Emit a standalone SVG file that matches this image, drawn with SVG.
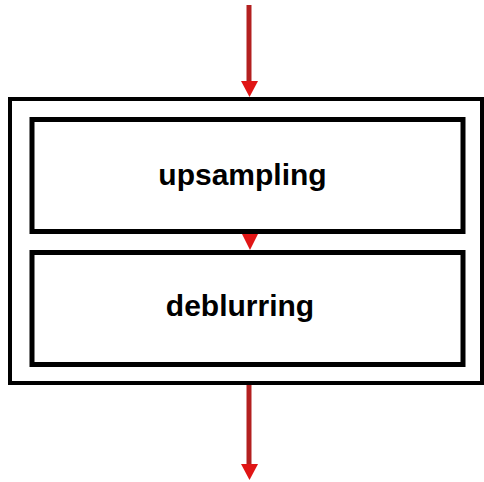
<svg xmlns="http://www.w3.org/2000/svg" width="484" height="482" viewBox="0 0 484 482">
<style>
.box{fill:none;stroke:#000;}
.lbl{font-family:"Liberation Sans",Arial,sans-serif;font-weight:bold;font-size:30px;fill:#000;text-anchor:middle;}
.shaft{stroke:#b32020;stroke-width:5;fill:none;}
.head{fill:#e01515;}
</style>
<rect width="484" height="482" fill="#fff"/>
<g id="container">
<rect class="box" x="10" y="99" width="472" height="284" stroke-width="4"/>
</g>
<g id="upsampling">
<rect class="box" x="32" y="119.5" width="431" height="112" stroke-width="5"/>
<text class="lbl" x="242.5" y="185">upsampling</text>
</g>
<g id="deblurring">
<rect class="box" x="32" y="252.5" width="431" height="112" stroke-width="5"/>
<text class="lbl" x="240" y="316">deblurring</text>
</g>
<g id="connectors">
<line class="shaft" x1="249" y1="5" x2="249" y2="85"/>
<polygon class="head" points="241,81 258,81 249.5,97"/>
<polygon class="head" points="242,234 258,234 250,250"/>
<line class="shaft" x1="249" y1="385" x2="249" y2="468"/>
<polygon class="head" points="241,464 258,464 249.5,480"/>
</g>
</svg>
